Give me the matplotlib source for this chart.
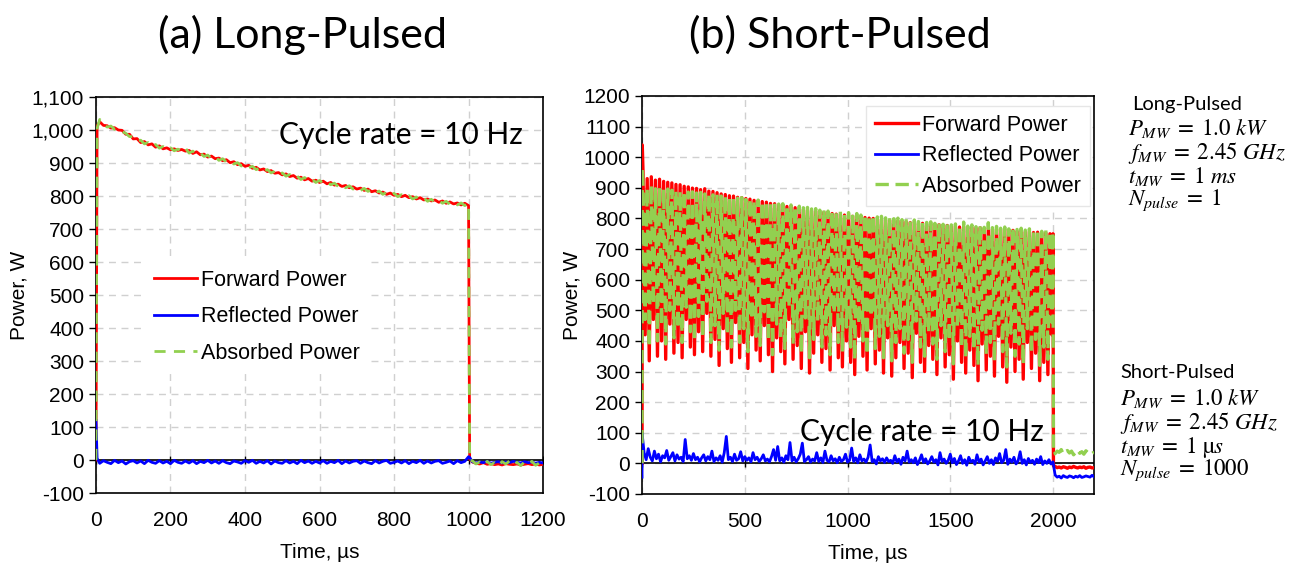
import numpy as np
import matplotlib
matplotlib.use('Agg')
import matplotlib.pyplot as plt

plt.rcParams['font.family'] = ['Liberation Sans', 'DejaVu Sans']
plt.rcParams['mathtext.fontset'] = 'stix'

RED = '#FF0000'
BLUE = '#0000FF'
GREEN = '#92D050'
GRID = '#D0D0D0'

# ---------------- (a) Long-Pulsed data ----------------
t_long = np.concatenate([[0, 3], np.arange(10, 1001, 10), [1003], np.arange(1010, 1201, 10)])

fwd_long = [0, 1012,
    1025, 1014, 1013, 1006, 1007, 1000, 999, 987, 987, 973,
    974, 962, 965, 955, 958, 948, 952, 943, 946, 940,
    943, 938, 941, 936, 938, 929, 934, 925, 927, 918,
    921, 913, 915, 907, 910, 901, 904, 895, 898, 890,
    893, 884, 887, 879, 882, 874, 877, 869, 871, 864,
    867, 859, 862, 854, 857, 849, 853, 845, 848, 841,
    845, 837, 841, 833, 836, 829, 832, 825, 828, 821,
    824, 817, 821, 813, 816, 809, 812, 805, 809, 802,
    805, 798, 802, 795, 798, 791, 795, 788, 791, 785,
    788, 781, 785, 778, 782, 776, 779, 773, 778, 771,
    3,
    -6, -10, -12, -8, -13, -11, -14, -12, -15, -11,
    -13, -14, -12, -15, -13, -11, -14, -12, -15, -13]

abs_long = [0, 1005,
    1032, 1018, 1009, 1012, 1002, 1003, 995, 990, 980, 980,
    968, 969, 958, 962, 950, 956, 945, 950, 940, 946,
    937, 942, 935, 945, 930, 936, 926, 930, 920, 924,
    914, 919, 908, 913, 903, 907, 897, 901, 891, 896,
    886, 890, 880, 885, 875, 880, 870, 875, 864, 870,
    860, 865, 855, 860, 850, 856, 846, 851, 841, 847,
    838, 843, 834, 839, 829, 835, 825, 831, 821, 827,
    817, 823, 814, 819, 809, 815, 805, 811, 802, 808,
    798, 804, 795, 801, 791, 797, 788, 794, 784, 790,
    781, 787, 778, 784, 775, 781, 773, 779, 771, 778,
    -2,
    -2, -12, -6, -16, -4, -14, -8, -18, -5, -12,
    -3, -15, -7, -17, -6, -13, -4, -16, -9, -14]

refl_long = [120, 5,
    -10, -2, -7, -11, -1, -8, -3, -12, -5, -2,
    -9, -3, -11, -1, -7, -10, -2, -9, -4, -11,
    -1, -7, -10, -3, -9, -2, -11, -4, -8, -1,
    -9, -3, -10, -2, -8, -11, -3, -6, -10, -2,
    -7, -1, -10, -4, -9, -2, -12, -3, -8, -10,
    -2, -9, -4, -11, -1, -8, -3, -10, -4, -9,
    -2, -10, -4, -8, -1, -11, -3, -9, -4, -2,
    -10, -3, -8, -11, -2, -9, -4, -1, -10, -7,
    -3, -9, -2, -11, -4, -8, -1, -10, -3, -9,
    -4, -2, -10, -7, -3, -11, -2, -8, -4, 10,
    8,
    -5, -9, -6, -8, -4, -10, -7, -5, -9, -6,
    -8, -4, -7, -9, -5, -8, -6, -10, -7, -9]

# ---------------- (b) Short-Pulsed data (pulse tops / troughs) ----------------
fwd_top = [945, 930, 936, 925, 928, 921, 918, 916, 911, 910,
           905, 903, 899, 898, 894, 897, 889, 888, 884, 880,
           878, 874, 873, 869, 868, 865, 863, 859, 858, 855,
           853, 849, 848, 844, 843, 839, 838, 835, 833, 829,
           828, 825, 824, 821, 820, 817, 816, 814, 813, 811,
           810, 807, 806, 804, 803, 801, 800, 797, 797, 794,
           794, 791, 792, 789, 789, 786, 786, 783, 784, 780,
           781, 778, 779, 776, 777, 774, 775, 772, 773, 770,
           771, 768, 769, 766, 767, 764, 765, 762, 763, 760,
           761, 758, 759, 756, 757, 754, 755, 752, 753, 750]

fwd_low = [420, 335, 470, 350, 400, 340, 455, 360, 395, 345,
           470, 380, 355, 430, 365, 490, 350, 405, 320, 440,
           375, 330, 460, 345, 395, 310, 420, 370, 335, 450,
           355, 300, 410, 365, 325, 470, 340, 385, 310, 430,
           295, 360, 420, 330, 375, 305, 450, 345, 315, 400,
           330, 290, 415, 350, 305, 440, 325, 370, 295, 410,
           285, 345, 395, 310, 360, 280, 425, 330, 300, 385,
           340, 290, 410, 315, 355, 275, 400, 330, 295, 370,
           320, 270, 390, 305, 350, 285, 415, 315, 265, 380,
           300, 340, 275, 395, 310, 360, 270, 330, 290, 420]

abs_top = [905, 899, 908, 897, 902, 895, 896, 892, 890, 888,
           889, 886, 887, 883, 885, 880, 881, 877, 878, 873,
           875, 870, 871, 866, 868, 862, 864, 858, 860, 855,
           856, 851, 852, 847, 848, 843, 844, 839, 840, 835,
           836, 831, 832, 827, 829, 824, 825, 820, 822, 817,
           819, 814, 816, 811, 813, 808, 810, 805, 807, 802,
           804, 799, 801, 796, 798, 793, 795, 790, 792, 787,
           789, 784, 786, 781, 784, 779, 782, 777, 788, 775,
           779, 773, 777, 771, 786, 770, 774, 768, 772, 766,
           770, 764, 768, 762, 766, 760, 764, 758, 762, 756]

abs_low = [470, 380, 520, 400, 450, 390, 500, 410, 440, 395,
           510, 430, 400, 480, 410, 530, 395, 450, 370, 490,
           420, 380, 500, 395, 440, 365, 470, 415, 385, 495,
           400, 355, 455, 410, 375, 510, 390, 430, 360, 475,
           345, 405, 465, 380, 420, 355, 490, 395, 365, 445,
           380, 340, 455, 400, 355, 480, 375, 415, 345, 450,
           335, 395, 440, 360, 405, 330, 465, 380, 350, 430,
           390, 340, 450, 365, 400, 325, 445, 380, 345, 415,
           370, 320, 435, 355, 395, 335, 455, 365, 315, 425,
           350, 390, 325, 440, 360, 405, 320, 380, 340, 460]

fwd_tail = [-10, -14, -12, -15, -11, -13, -16, -12, -14, -10,
            -13, -15, -12, -14, -11, -16, -13, -12, -15, -14]
abs_tail = [32, 40, 36, 45, 30, 38, 42, 34, 40, 28,
            36, 44, 33, 38, 30, 41, 35, 39, 32, 37]

t_refl = np.concatenate([[0, 0], np.arange(10, 2201, 10)])
refl_short = [-45, 100,
    35, 12, 48, 20, 8, 40, 15, 30, 5, 25,
    18, 42, 10, 22, 35, 8, 28, 14, 20, 6,
    78, 15, 25, 10, 32, 12, 20, 5, 18, 28,
    8, 22, 12, 40, 6, 18, 10, 25, 4, 35,
    88, 12, 20, 6, 30, 10, 15, 38, 8, 22,
    10, 18, 5, 35, 12, 20, 6, 15, 28, 8,
    14, 5, 22, 45, 10, 55, 8, 18, 4, 25,
    12, 68, 8, 20, 5, 15, 30, 66, 6, 12,
    22, 4, 14, 8, 35, 6, 18, 3, 40, 10,
    5, 25, 8, 15, 2, 20, 6, 12, 30, 4,
    10, 50, 6, 18, 2, 28, 8, 14, 4, 20,
    60, 5, 12, -2, 22, 8, 15, 3, 18, 6,
    10, 0, 25, 5, 14, -3, 20, 8, 40, 4,
    12, 2, 18, -4, 10, 28, 3, 15, -2, 8,
    22, 4, 12, -5, 35, 6, 14, 0, 10, 30,
    2, 16, -4, 8, 25, 0, 12, -6, 20, 5,
    10, -3, 28, 4, 14, -5, 8, 22, 0, 12,
    -4, 18, 6, 32, 2, 10, 45, -3, 14, 4,
    20, -2, 8, 38, 0, 12, -5, 16, 3, 10,
    -3, 14, 2, 22, -4, 8, 0, 12, -2, 5,
    -38, -45, -42, -48, -40, -44, -46, -41, -43, -47,
    -42, -45, -40, -46, -44, -41, -43, -45, -39, -44]

# pulse train: alternate top / trough samples
t_short = np.concatenate([[0, 1], np.arange(5, 2000, 10), [2000, 2002], np.arange(2010, 2201, 10)])
fwd_pulse = np.empty(200)
fwd_pulse[0::2] = fwd_top
fwd_pulse[1::2] = fwd_low
abs_pulse = np.empty(200)
abs_pulse[0::2] = abs_top
abs_pulse[1::2] = abs_low
fwd_short = np.concatenate([[0, 1040], fwd_pulse, [750, -8], fwd_tail])
abs_short = np.concatenate([[0, 965], abs_pulse, [756, 30], abs_tail])

xticks_long = [0, 200, 400, 600, 800, 1000, 1200]
xticks_short = [0, 500, 1000, 1500, 2000]

fig = plt.figure(figsize=(13.13, 5.72), dpi=100)
ax1 = fig.add_axes([0.0731, 0.1381, 0.3405, 0.6923])
ax2 = fig.add_axes([0.4890, 0.1364, 0.3443, 0.6958])


def style(ax, xticks, xmax, ymax, fmt, ylabelpad):
    ax.set_xlim(0, xmax)
    ax.set_ylim(-100, ymax)
    ax.set_xticks(xticks)
    ax.set_yticks(np.arange(-100, ymax + 1, 100))
    ax.set_yticklabels([fmt(v) for v in np.arange(-100, ymax + 1, 100)])
    ax.grid(True, color=GRID, linestyle=(0, (5, 4)), linewidth=1)
    ax.set_axisbelow(True)
    for s in ax.spines.values():
        s.set_color('black')
        s.set_linewidth(1.2)
    ax.tick_params(axis='y', direction='out', length=5, width=1, labelsize=15)
    ax.tick_params(axis='x', length=0, labelsize=15, pad=13)
    ax.axhline(0, color='black', lw=1.2, zorder=1.5)
    ax.plot(xticks, np.zeros(len(xticks)), '|', color='black', ms=6, mew=1, zorder=1.5)
    ax.set_xlabel('Time, µs', fontsize=15, labelpad=9)
    ax.set_ylabel('Power, W', fontsize=15, labelpad=ylabelpad)


# (a)
ax1.plot(t_long, fwd_long, color=RED, lw=2.0, label='Forward Power', zorder=3)
ax1.plot(t_long, refl_long, color=BLUE, lw=2.0, label='Reflected Power', zorder=3)
ax1.plot(t_long, abs_long, color=GREEN, lw=2.0, ls=(0, (4, 3)), label='Absorbed Power', zorder=4)
style(ax1, xticks_long, 1200, 1100, lambda v: f'{v:,}', 2)
leg1 = ax1.legend(loc='center left', bbox_to_anchor=(0.11, 0.445), fontsize=15.5,
                  handlelength=2.0, handletextpad=0.2, labelspacing=0.72,
                  frameon=True, fancybox=False, borderaxespad=0)
leg1.get_frame().set_edgecolor('none')
leg1.get_frame().set_facecolor('white')
leg1.get_frame().set_alpha(1)
ax1.text(0.955, 0.905, 'Cycle rate = 10 Hz', transform=ax1.transAxes, ha='right', va='center',
         fontsize=21.5, family=['Lato', 'DejaVu Sans'])

# (b)
ax2.plot(t_short, fwd_short, color=RED, lw=2.4, label='Forward Power', zorder=3)
ax2.plot(t_refl, refl_short, color=BLUE, lw=2.0, label='Reflected Power', zorder=3)
ax2.plot(t_short, abs_short, color=GREEN, lw=2.4, ls=(0, (4, 2)), label='Absorbed Power', zorder=4)
style(ax2, xticks_short, 2200, 1200, lambda v: f'{v}', 1)
leg2 = ax2.legend(loc='upper right', bbox_to_anchor=(0.99, 0.975), fontsize=15.5,
                  handlelength=2.0, handletextpad=0.2, labelspacing=0.45,
                  frameon=True, fancybox=False, borderaxespad=0)
leg2.get_frame().set_edgecolor('#E6E6E6')
leg2.get_frame().set_facecolor('white')
leg2.get_frame().set_alpha(1)
ax2.text(0.888, 0.155, 'Cycle rate = 10 Hz', transform=ax2.transAxes, ha='right', va='center',
         fontsize=21.5, family=['Lato', 'DejaVu Sans'])

# titles
fig.text(303 / 1313, 1 - 35 / 572, '(a) Long-Pulsed', ha='center', va='center', fontsize=31,
         family=['Lato', 'DejaVu Sans'])
fig.text(840 / 1313, 1 - 35 / 572, '(b) Short-Pulsed', ha='center', va='center', fontsize=31,
         family=['Lato', 'DejaVu Sans'])

# parameter notes
notes = [
    (1132, 104, 'Long-Pulsed', False),
    (1128, 129, r'$P_{MW}\;=\;1.0\ kW$', True),
    (1128, 153, r'$f_{MW}\;=\;2.45\ GHz$', True),
    (1128, 177, r'$t_{MW}\;=\;1\ ms$', True),
    (1128, 200, r'$N_{pulse}\;=\;1$', True),
    (1120, 373, 'Short-Pulsed', False),
    (1120, 399, r'$P_{MW}\;=\;1.0\ kW$', True),
    (1120, 423, r'$f_{MW}\;=\;2.45\ GHz$', True),
    (1120, 447, r'$t_{MW}\;=\;1\ \mathrm{µ}s$', True),
    (1120, 470, r'$N_{pulse}\;=\;1000$', True),
]
for x, y, s, is_math in notes:
    fig.text(x / 1313, 1 - y / 572, s, ha='left', va='center',
             fontsize=16.5 if is_math else 14.5, family=['Lato', 'DejaVu Sans'])

fig.savefig('out.png', dpi=100)
